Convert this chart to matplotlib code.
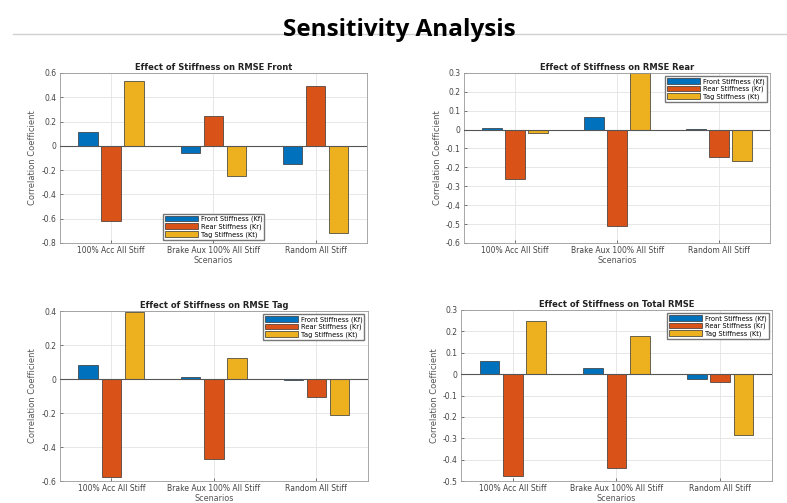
import numpy as np
import matplotlib
matplotlib.use('Agg')
import matplotlib.pyplot as plt

scenarios = ['100% Acc All Stiff', 'Brake Aux 100% All Stiff', 'Random All Stiff']
series_names = ['Front Stiffness (Kf)', 'Rear Stiffness (Kr)', 'Tag Stiffness (Kt)']
colors = ['#0072BD', '#D95319', '#EDB120']

front_kf = [0.11, -0.06, -0.15]
front_kr = [-0.62, 0.245, 0.495]
front_kt = [0.53, -0.25, -0.72]

rear_kf = [0.01, 0.065, 0.003]
rear_kr = [-0.26, -0.51, -0.145]
rear_kt = [-0.02, 0.30, -0.165]

tag_kf = [0.08, 0.012, -0.008]
tag_kr = [-0.575, -0.47, -0.105]
tag_kt = [0.395, 0.125, -0.21]

total_kf = [0.06, 0.03, -0.025]
total_kr = [-0.475, -0.44, -0.038]
total_kt = [0.25, 0.18, -0.285]

panels = [
    ('Effect of Stiffness on RMSE Front', [front_kf, front_kr, front_kt],
     (-0.8, 0.6), np.arange(-0.8, 0.61, 0.2), 'lower center',
     [0.0762, 0.517, 0.390, 0.338]),
    ('Effect of Stiffness on RMSE Rear', [rear_kf, rear_kr, rear_kt],
     (-0.6, 0.3), np.arange(-0.6, 0.31, 0.1), 'upper right',
     [0.5896, 0.517, 0.389, 0.338]),
    ('Effect of Stiffness on RMSE Tag', [tag_kf, tag_kr, tag_kt],
     (-0.6, 0.4), np.arange(-0.6, 0.41, 0.2), 'upper right',
     [0.0762, 0.0437, 0.391, 0.338]),
    ('Effect of Stiffness on Total RMSE', [total_kf, total_kr, total_kt],
     (-0.5, 0.3), np.arange(-0.5, 0.31, 0.1), 'upper right',
     [0.5858, 0.0437, 0.395, 0.340]),
]

fig = plt.figure(figsize=(7.87, 5.03), dpi=100)
fig.patch.set_facecolor('white')

# slide title + rule
fig.text(0.508, 0.94, 'Sensitivity Analysis', ha='center', va='center',
         fontsize=17.5, fontweight='bold', family='Open Sans', color='black')
fig.add_artist(plt.Line2D([0.016, 1.0], [0.932, 0.932], color='#d0d0d0',
                          linewidth=1, zorder=0))

x = np.arange(1, len(scenarios) + 1)
offsets = [-0.225, 0, 0.225]
width = 0.19

for title, vals, ylim, yticks, loc, pos in panels:
    ax = fig.add_axes(pos)
    ax.set_axisbelow(True)
    for i, (v, c, name) in enumerate(zip(vals, colors, series_names)):
        ax.bar(x + offsets[i], v, width=width, color=c, edgecolor='#333333',
               linewidth=0.5, label=name, zorder=2)
    ax.axhline(0, color='#555555', linewidth=0.8, zorder=3)
    ax.set_xlim(0.5, 3.5)
    ax.set_ylim(*ylim)
    ax.set_xticks(x)
    ax.set_xticklabels(scenarios)
    ax.set_yticks(yticks)
    ax.set_yticklabels(['0' if abs(t) < 1e-9 else f'{t:g}' for t in yticks])
    ax.tick_params(labelsize=5.5, colors='#444444', length=2, width=0.5,
                   direction='in', pad=2.5)
    ax.grid(True, color='#e3e3e3', linewidth=0.6)
    for s in ax.spines.values():
        s.set_color('#999999')
        s.set_linewidth(0.6)
    ax.set_title(title, fontsize=6, fontweight='bold', pad=2, color='#222222')
    ax.set_ylabel('Correlation Coefficient', fontsize=6, color='#555555', labelpad=3)
    ax.set_xlabel('Scenarios', fontsize=5.8, color='#555555', labelpad=0.5)
    ax.legend(loc=loc, fontsize=4.8, handlelength=5, handleheight=0.9,
              borderpad=0.3, labelspacing=0.15, handletextpad=0.4,
              fancybox=False, edgecolor='#777777', framealpha=1)

plt.savefig('out.png', dpi=100)
